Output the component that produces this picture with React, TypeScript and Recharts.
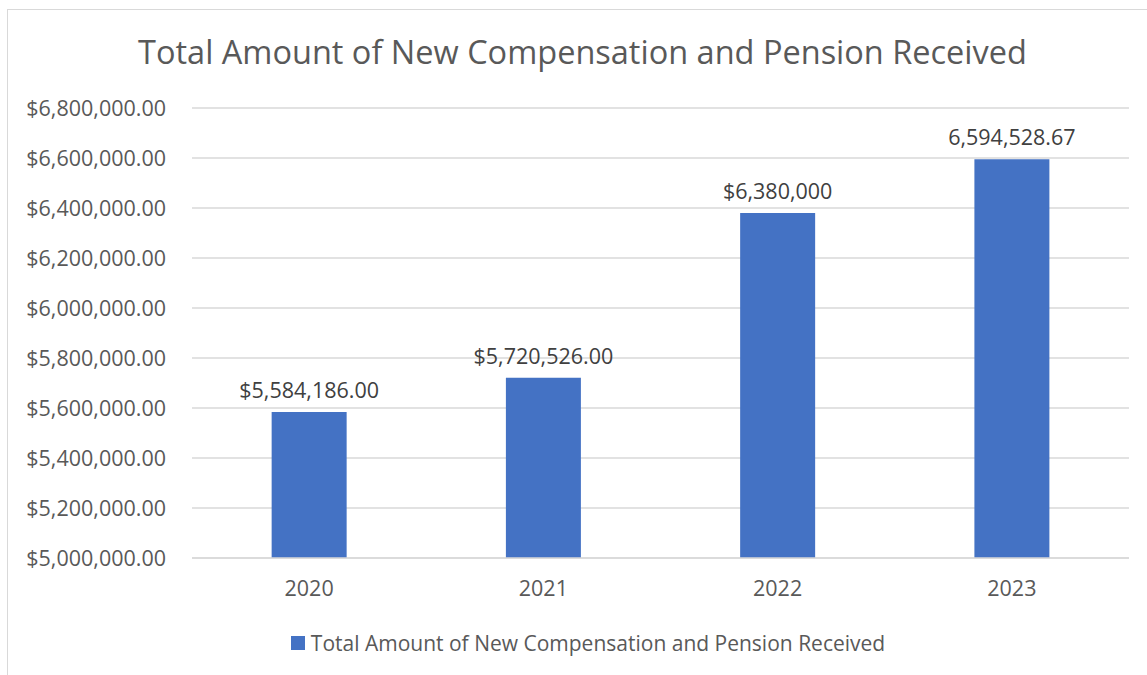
import React from "react";
import { BarChart, Bar, XAxis, YAxis, CartesianGrid, Legend, LabelList } from "recharts";

const years = ["2020", "2021", "2022", "2023"];
const amounts = [5584186, 5720526, 6380000, 6594528.67];
const amountLabels = ["$5,584,186.00", "$5,720,526.00", "$6,380,000", "6,594,528.67"];
const yTicks = [5000000, 5200000, 5400000, 5600000, 5800000, 6000000, 6200000, 6400000, 6600000, 6800000];

const seriesName = "Total Amount of New Compensation and Pension Received";
const font = "'Open Sans', 'Noto Sans', sans-serif";
const textSize = 21.5;

const data = years.map((year, i) => ({ year, amount: amounts[i], label: amountLabels[i] }));

const money = (v: number) =>
  "$" + v.toLocaleString("en-US", { minimumFractionDigits: 2, maximumFractionDigits: 2 });

// legend drawn by hand so the text stays grey instead of bar-coloured
function LegendBox() {
  return (
    <div
      style={{
        display: "flex",
        justifyContent: "center",
        alignItems: "center",
        paddingLeft: 47,
        paddingTop: 5,
        fontFamily: font,
        fontSize: 21,
        color: "#595959",
      }}
    >
      <span style={{ width: 14, height: 14, background: "#4472C4", marginRight: 6, display: "inline-block" }} />
      <span>{seriesName}</span>
    </div>
  );
}

export default function App() {
  return (
    <div style={{ position: "absolute", left: 0, top: 0, width: 1147, height: 675, overflow: "hidden", background: "#fff" }}>
      <div style={{ position: "absolute", left: 7, top: 9, width: 1160, height: 700, border: "1px solid #d9d9d9" }} />
      <div
        style={{
          position: "absolute",
          left: 0,
          top: 32,
          width: 1165,
          textAlign: "center",
          fontFamily: font,
          fontSize: 32.5,
          color: "#595959",
          lineHeight: "40px",
        }}
      >
        {seriesName}
      </div>
      <div style={{ position: "absolute", left: 0, top: 0 }}>
        <BarChart
          width={1147}
          height={675}
          data={data}
          margin={{ top: 108, right: 18, left: 0, bottom: 14 }}
          barCategoryGap="34%"
        >
          <CartesianGrid vertical={false} stroke="#d9d9d9" strokeWidth={1.3} />
          <XAxis
            dataKey="year"
            tickLine={false}
            axisLine={{ stroke: "#d9d9d9", strokeWidth: 1.3 }}
            tickSize={0}
            tickMargin={23}
            height={66}
            tick={{ fill: "#595959", fontSize: textSize, fontFamily: font }}
          />
          <YAxis
            width={192}
            domain={[5000000, 6800000]}
            ticks={yTicks}
            tickFormatter={money}
            axisLine={false}
            tickLine={false}
            tickSize={0}
            tickMargin={26}
            tick={{ fill: "#595959", fontSize: textSize, fontFamily: font }}
          />
          <Legend verticalAlign="bottom" height={37} content={() => <LegendBox />} />
          <Bar dataKey="amount" name={seriesName} fill="#4472C4" isAnimationActive={false}>
            <LabelList
              dataKey="label"
              position="top"
              offset={14}
              style={{ fill: "#404040", fontSize: textSize, fontFamily: font }}
            />
          </Bar>
        </BarChart>
      </div>
    </div>
  );
}
